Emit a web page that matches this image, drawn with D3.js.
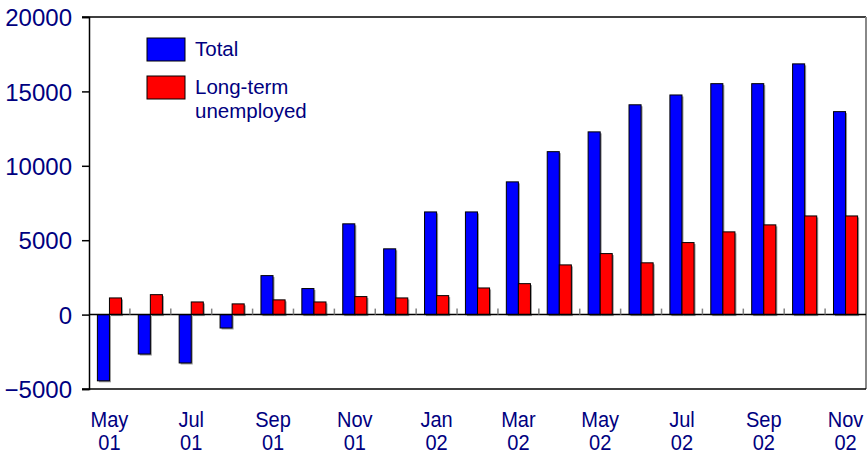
<!DOCTYPE html>
<html lang="en">
<head>
    <meta charset="UTF-8">
    <title>Total and long-term unemployed</title>
    <style>
        body {
            margin: 0;
            padding: 0;
            background-color: #fff;
        }

        svg {
            display: block;
            font-family: Arial, "Liberation Sans", sans-serif;
        }

        .label {
            fill: #000080;
        }
    </style>
</head>
<body>

<svg width="868" height="454" id="chart"></svg>

<script src="https://d3js.org/d3.v7.min.js"></script>
<script>
    const months = ["May 01", "Jun 01", "Jul 01", "Aug 01", "Sep 01", "Oct 01", "Nov 01", "Dec 01",
        "Jan 02", "Feb 02", "Mar 02", "Apr 02", "May 02", "Jun 02", "Jul 02", "Aug 02",
        "Sep 02", "Oct 02", "Nov 02"];
    const total = [-4450, -2650, -3250, -900, 2620, 1750, 6100, 4420, 6900, 6900, 8920, 10950,
        12280, 14100, 14760, 15520, 15520, 16850, 13640];
    const longTerm = [1120, 1340, 850, 720, 990, 850, 1210, 1120, 1275, 1790, 2080, 3340,
        4100, 3480, 4840, 5560, 6030, 6630, 6630];
    const yTicks = [-5000, 0, 5000, 10000, 15000, 20000];
    const xLabels = ["May 01", "Jul 01", "Sep 01", "Nov 01", "Jan 02", "Mar 02", "May 02",
        "Jul 02", "Sep 02", "Nov 02"];

    const series = [
        { name: "Total", values: total, color: "#0000ff" },
        { name: "Long-term unemployed", values: longTerm, color: "#ff0000" }
    ];

    const svg = d3.select("#chart");

    // plot area
    const plotLeft = 89, plotRight = 866, plotTop = 17, plotBottom = 389;

    const x0 = d3.scaleBand()
        .domain(months)
        .range([plotLeft, plotRight])
        .paddingInner(0.41)
        .paddingOuter(0.205);

    const x1 = d3.scaleBand()
        .domain(series.map(s => s.name))
        .range([0, x0.bandwidth()]);

    const y = d3.scaleLinear()
        .domain([-5000, 20000])
        .range([plotBottom, plotTop]);

    const rows = months.map((m, i) => series.map(s => ({ month: m, name: s.name, value: s.values[i], color: s.color })));

    // frame
    svg.append("line").attr("x1", plotLeft - 7).attr("x2", plotRight).attr("y1", plotTop).attr("y2", plotTop)
        .attr("stroke", "#000").attr("stroke-width", 1.5);
    svg.append("line").attr("x1", plotRight).attr("x2", plotRight).attr("y1", plotTop).attr("y2", plotBottom)
        .attr("stroke", "#888").attr("stroke-width", 2);

    // bars with a little grey shadow
    const groups = svg.append("g").selectAll("g")
        .data(rows)
        .join("g")
        .attr("transform", d => `translate(${x0(d[0].month)},0)`);

    groups.selectAll("rect.shadow")
        .data(d => d)
        .join("rect")
        .attr("class", "shadow")
        .attr("x", d => x1(d.name) + 1.5)
        .attr("y", d => Math.min(y(d.value), y(0)) + 1.5)
        .attr("width", x1.bandwidth())
        .attr("height", d => Math.abs(y(d.value) - y(0)))
        .attr("fill", "#999");

    groups.selectAll("rect.bar")
        .data(d => d)
        .join("rect")
        .attr("class", "bar")
        .attr("x", d => x1(d.name))
        .attr("y", d => Math.min(y(d.value), y(0)))
        .attr("width", x1.bandwidth())
        .attr("height", d => Math.abs(y(d.value) - y(0)))
        .attr("fill", d => d.color)
        .attr("stroke", "#000")
        .attr("stroke-width", 1);

    // y axis
    const yAxis = svg.append("g")
        .attr("transform", `translate(${plotLeft},0)`)
        .call(d3.axisLeft(y).tickValues(yTicks).tickSize(7).tickPadding(10).tickFormat(d3.format("d")));
    yAxis.select(".domain").attr("stroke", "#000").attr("stroke-width", 1.5);
    yAxis.selectAll(".tick line").attr("stroke", "#000").attr("stroke-width", 1.5);
    yAxis.selectAll(".tick text")
        .attr("class", "label")
        .attr("font-size", 24)
        .attr("font-family", "Arial, 'Liberation Sans', sans-serif")
        .attr("dy", "0.36em");

    // bottom line
    svg.append("line").attr("x1", plotLeft - 7).attr("x2", plotRight).attr("y1", plotBottom).attr("y2", plotBottom)
        .attr("stroke", "#000").attr("stroke-width", 1.5);

    // zero line
    svg.append("line").attr("x1", plotLeft).attr("x2", plotRight).attr("y1", y(0)).attr("y2", y(0))
        .attr("stroke", "#000").attr("stroke-width", 1.5);

    // category boundary ticks on the zero line
    const step = x0.step();
    svg.append("g").selectAll("line")
        .data(months.slice(1))
        .join("line")
        .attr("x1", d => x0(d) - step * x0.paddingInner() / 2)
        .attr("x2", d => x0(d) - step * x0.paddingInner() / 2)
        .attr("y1", y(0) - 6)
        .attr("y2", y(0))
        .attr("stroke", "#808080")
        .attr("stroke-width", 1.5);

    // x labels, two lines each, slightly condensed
    const xl = svg.append("g").selectAll("g")
        .data(xLabels)
        .join("g")
        .attr("transform", d => `translate(${x0(d) + x0.bandwidth() / 2},0)`);
    xl.each(function (d) {
        const parts = d.split(" ");
        const g = d3.select(this);
        parts.forEach((p, i) => {
            g.append("text")
                .attr("class", "label")
                .attr("text-anchor", "middle")
                .attr("font-size", 22)
                .attr("transform", `translate(0,${427 + i * 23}) scale(0.91,1)`)
                .text(p);
        });
    });

    // legend
    const legend = svg.append("g").attr("transform", "translate(147,38)");
    legend.selectAll("rect")
        .data(series)
        .join("rect")
        .attr("x", 0)
        .attr("y", (d, i) => i * 38)
        .attr("width", 38)
        .attr("height", 23)
        .attr("fill", d => d.color)
        .attr("stroke", "#000")
        .attr("stroke-width", 1);
    legend.append("text").attr("class", "label").attr("x", 48).attr("y", 18)
        .attr("font-size", 20.5).text("Total");
    legend.append("text").attr("class", "label").attr("x", 48).attr("y", 56)
        .attr("font-size", 20.5).text("Long-term");
    legend.append("text").attr("class", "label").attr("x", 48).attr("y", 80)
        .attr("font-size", 20.5).text("unemployed");
</script>
</body>
</html>
